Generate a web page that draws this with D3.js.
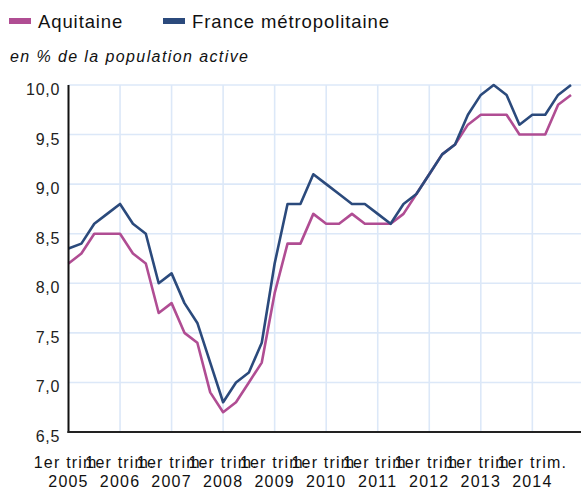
<!DOCTYPE html>
<html><head><meta charset="utf-8">
<script src="https://cdn.jsdelivr.net/npm/d3@7"></script>
<style>
html,body{margin:0;padding:0;background:#fff;}
svg{display:block;font-family:"Liberation Sans",Arial,sans-serif;}
</style></head>
<body><svg id="c" width="581" height="489"></svg>
<script>
const years = [2005,2006,2007,2008,2009,2010,2011,2012,2013,2014];
const quarters = ["T1","T2","T3","T4"];
const periods = years.flatMap(y => quarters.map(q => y + " " + q));
const tickLabelTop = "1er trim.";
const yTicks = [6.5,7.0,7.5,8.0,8.5,9.0,9.5,10.0];
const seriesNames = ["Aquitaine","France métropolitaine"];
const aquitaine = [8.2,8.3,8.5,8.5,8.5,8.3,8.2,7.7,7.8,7.5,7.4,6.9,6.7,6.8,7.0,7.2,7.9,8.4,8.4,8.7,8.6,8.6,8.7,8.6,8.6,8.6,8.7,8.9,9.1,9.3,9.4,9.6,9.7,9.7,9.7,9.5,9.5,9.5,9.8,9.9];
const france = [8.35,8.4,8.6,8.7,8.8,8.6,8.5,8.0,8.1,7.8,7.6,7.2,6.8,7.0,7.1,7.4,8.2,8.8,8.8,9.1,9.0,8.9,8.8,8.8,8.7,8.6,8.8,8.9,9.1,9.3,9.4,9.7,9.9,10.0,9.9,9.6,9.7,9.7,9.9,10.0];
const subtitle = "en % de la population active";
const colors = ["#b04d93","#2b4a7c"];

const svg = d3.select("#c");
const pL = 68.5, pR = 581, pT = 85, pB = 432;
const x = d3.scalePoint().domain(periods).range([68.5, 571]);
const y = d3.scaleLinear().domain([6.5,10]).range([pB, pT]);

// grid
const g = svg.append("g");
g.selectAll("line.h").data(yTicks.filter(v=>v>6.5)).join("line")
  .attr("x1", pL).attr("x2", pR).attr("y1", d=>y(d)).attr("y2", d=>y(d))
  .attr("stroke","#dce8f8").attr("stroke-width",1.6);
const yearStarts = years.map(yr => yr + " T1");
g.selectAll("line.v").data(yearStarts.slice(1)).join("line")
  .attr("x1", d=>x(d)).attr("x2", d=>x(d)).attr("y1", pT).attr("y2", pB)
  .attr("stroke","#dce8f8").attr("stroke-width",1.6);

// y labels
svg.append("g").selectAll("text").data(yTicks).join("text")
  .attr("x", 60).attr("y", d=>y(d)+10).attr("text-anchor","end")
  .attr("font-size",16).attr("letter-spacing","0.7px").attr("fill","#222")
  .text(d=>d3.format(".1f")(d).replace(".",","));

// x labels
const xl = svg.append("g").selectAll("g").data(yearStarts).join("g")
  .attr("transform", d=>`translate(${x(d)},0)`);
xl.append("text").attr("y",468).attr("text-anchor","middle").attr("font-size",16)
  .attr("letter-spacing","1.2px").attr("fill","#111").text(tickLabelTop);
xl.append("text").attr("y",487).attr("text-anchor","middle").attr("font-size",16)
  .attr("letter-spacing","1.2px").attr("fill","#111").text(d=>d.split(" ")[0]);

// lines
const line = d3.line().x((d,i)=>x(periods[i])).y(d=>y(d));
[aquitaine, france].forEach((s,k)=>{
  svg.append("path").datum(s).attr("d", line).attr("fill","none")
    .attr("stroke", colors[k]).attr("stroke-width",2.6).attr("stroke-linejoin","round");
});

// axes
svg.append("line").attr("x1",pL).attr("x2",pL).attr("y1",pT).attr("y2",pB+1)
  .attr("stroke","#111").attr("stroke-width",2);
svg.append("line").attr("x1",pL-1).attr("x2",pR).attr("y1",pB).attr("y2",pB)
  .attr("stroke","#222").attr("stroke-width",2.2);

// legend
const legX = [9, 163];
const lg = svg.append("g").selectAll("g").data(seriesNames).join("g")
  .attr("transform",(d,i)=>`translate(${legX[i]},0)`);
lg.append("rect").attr("x",0).attr("y",18).attr("width",22).attr("height",6)
  .attr("fill",(d,i)=>colors[i]);
lg.append("text").attr("x",29).attr("y",28).attr("font-size",18.5)
  .attr("letter-spacing","0.9px").attr("fill","#111").text(d=>d);

svg.append("text").attr("x",10).attr("y",62).attr("font-size",16)
  .attr("font-style","italic").attr("letter-spacing","1.4px").attr("fill","#111").text(subtitle);
</script></body></html>
